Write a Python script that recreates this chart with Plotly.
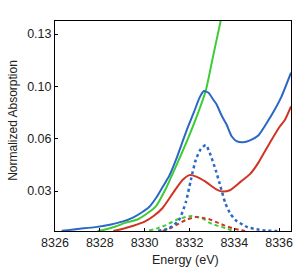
import plotly.graph_objects as go

# Blue solid
blue_E = [8326.3, 8327.0, 8327.8, 8328.5, 8329.0, 8329.5, 8329.9, 8330.2, 8330.5, 8330.8,
          8331.1, 8331.4, 8331.66, 8331.95, 8332.2, 8332.45, 8332.64, 8332.85, 8333.05, 8333.2,
          8333.45, 8333.65, 8333.88, 8334.1, 8334.4, 8334.7, 8335.07, 8335.5, 8335.8, 8336.1, 8336.53]
blue_v = [0.0078, 0.0090, 0.0101, 0.0118, 0.0135, 0.0162, 0.0195, 0.0226, 0.0280, 0.0350,
          0.0420, 0.0520, 0.0620, 0.0730, 0.0815, 0.0905, 0.0946, 0.0935, 0.0895, 0.0865,
          0.0790, 0.0740, 0.0665, 0.0635, 0.0628, 0.0640, 0.0670, 0.0760, 0.0830, 0.0910, 0.1060]

# Green solid
green_E = [8327.9, 8328.2, 8328.7, 8329.1, 8329.7, 8330.2, 8330.5, 8330.96, 8331.4, 8331.9,
           8332.3, 8332.73, 8333.05, 8333.39, 8333.5]
green_v = [0.0077, 0.0085, 0.0105, 0.0126, 0.0150, 0.0195, 0.0230, 0.0344, 0.0480, 0.0640,
           0.0780, 0.0950, 0.1160, 0.1380, 0.1450]

# Red solid
red_E = [8328.6, 8329.0, 8329.5, 8330.0, 8330.4, 8330.8, 8331.3, 8331.7, 8332.0, 8332.3,
         8332.7, 8333.2, 8333.45, 8333.8, 8334.3, 8334.7, 8335.07, 8335.4, 8335.65, 8336.0,
         8336.27, 8336.53]
red_v = [0.0077, 0.0090, 0.0110, 0.0135, 0.0170, 0.0220, 0.0320, 0.0395, 0.0424, 0.0415,
         0.0385, 0.0335, 0.0322, 0.0330, 0.0385, 0.0430, 0.0500, 0.0580, 0.0640, 0.0720,
         0.0770, 0.0850]

# Blue dotted component
bdot_E = [8330.6, 8331.1, 8331.53, 8331.84, 8332.06, 8332.28, 8332.5, 8332.73, 8332.95, 8333.17,
          8333.35, 8333.6, 8333.8, 8334.05, 8334.6, 8335.0, 8335.4, 8336.0]
bdot_v = [0.0077, 0.0095, 0.0145, 0.0257, 0.0393, 0.0518, 0.0585, 0.0611, 0.0545, 0.0455,
          0.0370, 0.0250, 0.0190, 0.0145, 0.0100, 0.0088, 0.0080, 0.0077]

# Green dashed component
gdash_E = [8330.2, 8330.6, 8330.96, 8331.4, 8331.84, 8332.1, 8332.4, 8332.64, 8332.86, 8333.2,
           8333.6, 8333.9]
gdash_v = [0.0080, 0.0095, 0.0114, 0.0145, 0.0164, 0.0170, 0.0162, 0.0151, 0.0130, 0.0112,
           0.0095, 0.0080]

# Red dashed component
rdash_E = [8330.8, 8331.1, 8331.4, 8331.84, 8332.28, 8332.6, 8332.86, 8333.2, 8333.55, 8333.9,
           8334.3, 8334.6]
rdash_v = [0.0078, 0.0092, 0.0114, 0.0145, 0.0164, 0.0158, 0.0151, 0.0132, 0.0112, 0.0095,
           0.0082, 0.0075]

x_ticks = [8326, 8328, 8330, 8332, 8334, 8336]
y_tickvals = [0.0325, 0.065, 0.0975, 0.13]
y_ticktext = ["0.03", "0.06", "0.10", "0.13"]

BLUE = "#2a68c8"
RED = "#d03422"
GREEN = "#3ccc34"

fig = go.Figure()
fig.add_trace(go.Scatter(x=gdash_E, y=gdash_v, mode="lines",
                         line=dict(color=GREEN, width=2, dash="4px,3px", shape="spline", smoothing=0.6)))
fig.add_trace(go.Scatter(x=rdash_E, y=rdash_v, mode="lines",
                         line=dict(color=RED, width=2, dash="4px,3px", shape="spline", smoothing=0.6)))
fig.add_trace(go.Scatter(x=bdot_E, y=bdot_v, mode="lines",
                         line=dict(color=BLUE, width=2.5, dash="3px,3px", shape="spline", smoothing=0.6)))
fig.add_trace(go.Scatter(x=red_E, y=red_v, mode="lines",
                         line=dict(color=RED, width=2, shape="spline", smoothing=0.6)))
fig.add_trace(go.Scatter(x=green_E, y=green_v, mode="lines",
                         line=dict(color=GREEN, width=2, shape="spline", smoothing=0.6)))
fig.add_trace(go.Scatter(x=blue_E, y=blue_v, mode="lines",
                         line=dict(color=BLUE, width=2, shape="spline", smoothing=0.6)))

fnt = dict(family="Liberation Sans, Arial, sans-serif", size=12.5, color="#222")

fig.update_layout(
    width=300, height=272,
    margin=dict(l=55, r=7, t=21, b=41),
    paper_bgcolor="white", plot_bgcolor="white",
    showlegend=False,
    font=fnt,
    xaxis=dict(range=[8326, 8336.53], tickvals=x_ticks, ticks="inside", ticklen=3,
               showline=True, linecolor="black", linewidth=1, mirror=True,
               showgrid=False, zeroline=False, tickfont=fnt, tickcolor="black"),
    yaxis=dict(range=[0.0077, 0.1381], tickvals=y_tickvals, ticktext=y_ticktext,
               ticks="inside", ticklen=3, showline=True, linecolor="black", linewidth=1,
               mirror=True, showgrid=False, zeroline=False, tickfont=fnt, tickcolor="black"),
    annotations=[
        dict(text="Normalized Absorption", textangle=-90, xref="paper", yref="paper",
             x=(12.5 - 55) / 238, y=(231 - 120) / 210, xanchor="center", yanchor="middle",
             showarrow=False, font=dict(family="Liberation Sans, Arial, sans-serif", size=12, color="#222")),
        dict(text="Energy (eV)", xref="paper", yref="paper",
             x=(186.5 - 55) / 238, y=(231 - 260) / 210, xanchor="center", yanchor="middle",
             showarrow=False, font=fnt),
    ],
)

fig.write_html("out.html")
